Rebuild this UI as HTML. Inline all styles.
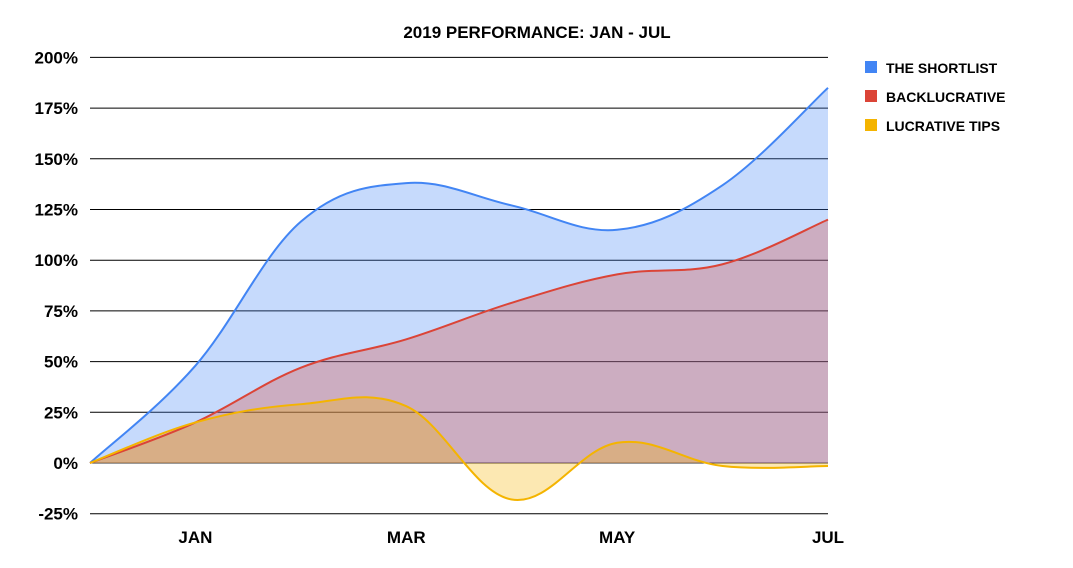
<!DOCTYPE html>
<html><head><meta charset="utf-8"><style>
body{margin:0;background:#fff;font-family:"Liberation Sans",Arial,sans-serif}
svg text{font-family:"Liberation Sans",Arial,sans-serif;font-weight:bold}
</style></head><body>
<svg id="chart" width="1073" height="563">
<text x="537" y="38" text-anchor="middle" font-size="17" fill="#000">2019 PERFORMANCE: JAN - JUL</text>
<g id="grid"></g><g id="areas"></g><g id="lines"></g><g id="labels"></g>
<g>
<g><rect x="865" y="61" width="12" height="12" fill="#4285f4"/><text x="886" y="73" font-size="14">THE SHORTLIST</text></g>
<g><rect x="865" y="90" width="12" height="12" fill="#db4437"/><text x="886" y="102" font-size="14">BACKLUCRATIVE</text></g>
<g><rect x="865" y="119" width="12" height="12" fill="#f4b400"/><text x="886" y="131" font-size="14">LUCRATIVE TIPS</text></g>
</g>
</svg>
<script>
const categories=["","JAN","FEB","MAR","APR","MAY","JUN","JUL"];
const xLabels=["JAN","MAR","MAY","JUL"];
const yTicks=[-25,0,25,50,75,100,125,150,175,200];
const shortlist=[0,48,119,138,127,115,137,185];
const backlucrative=[0,20,47,61,79,93,98,120];
const lucrativeTips=[0,20,29,28,-18,10,-1.5,-1.5];
const X0=90,X1=828,Y0=463,PX=50.7/25;
const xs=i=>X0+(X1-X0)*i/(categories.length-1);
const ys=v=>Y0-v*PX;
const NS="http://www.w3.org/2000/svg";
function mk(t,a,p){const e=document.createElementNS(NS,t);for(const k in a)e.setAttribute(k,a[k]);p.appendChild(e);return e;}
const grid=document.getElementById('grid'),labels=document.getElementById('labels');
yTicks.forEach(t=>{const l=mk('line',{x1:X0,x2:X1,y1:ys(t),y2:ys(t),stroke:t===0?'#333':'#000','stroke-width':1},grid);


const tx=mk('text',{x:78,y:ys(t)+6,'text-anchor':'end','font-size':17},labels);tx.textContent=t+'%';

});
xLabels.forEach(c=>{const i=categories.indexOf(c);const tx=mk('text',{x:xs(i),y:543,'text-anchor':'middle','font-size':17},labels);tx.textContent=c;

});
function path(vals){const p=vals.map((v,i)=>[xs(i),ys(v)]);let d='M'+p[0][0]+','+p[0][1];
for(let i=0;i<p.length-1;i++){const a=p[Math.max(i-1,0)],b=p[i],c=p[i+1],e=p[Math.min(i+2,p.length-1)];const k=0.18;
d+=' C'+(b[0]+(c[0]-a[0])*k)+','+(b[1]+(c[1]-a[1])*k)+' '+(c[0]-(e[0]-b[0])*k)+','+(c[1]-(e[1]-b[1])*k)+' '+c[0]+','+c[1];}return d;}
const series=[[shortlist,'#4285f4','shortlist'],[backlucrative,'#db4437','backlucrative'],[lucrativeTips,'#f4b400','lucrative-tips']];
const areas=document.getElementById('areas'),lines=document.getElementById('lines');
series.forEach(([v,c,n])=>{const d=path(v);
const a=mk('path',{d:d+' L'+X1+','+Y0+' L'+X0+','+Y0+' Z',fill:c,'fill-opacity':0.3},areas);


const l=mk('path',{d:d,fill:'none',stroke:c,'stroke-width':2},lines);

});
</script>
</body></html>
